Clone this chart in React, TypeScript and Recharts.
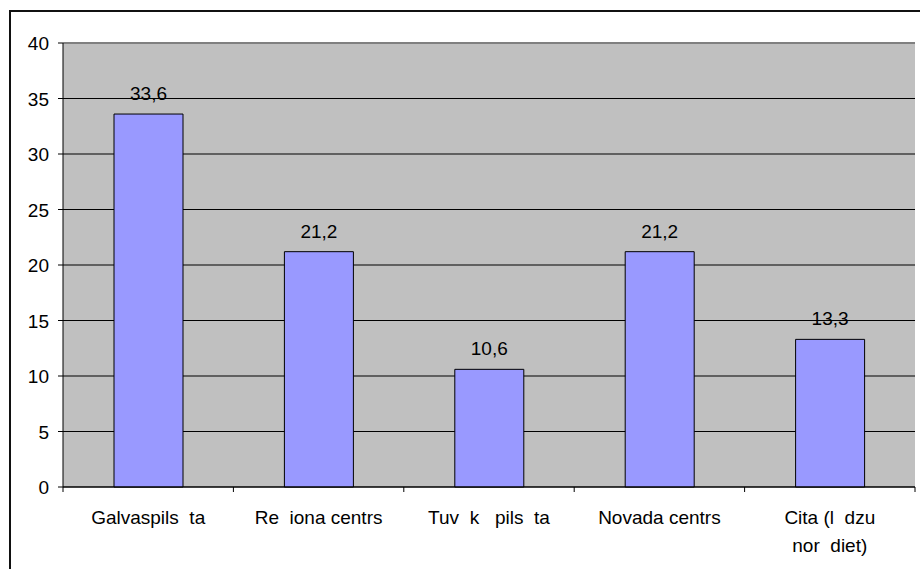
import { Bar, BarChart, CartesianGrid, LabelList, ReferenceLine, XAxis, YAxis } from "recharts"

// category names as they appear in the picture (the missing glyphs show as blanks)
const categories = [
  "Galvaspils\u00A0\u00A0ta",
  "Re\u00A0\u00A0iona centrs",
  "Tuv\u00A0\u00A0k\u00A0\u00A0\u00A0pils\u00A0\u00A0ta",
  "Novada centrs",
  "Cita (l\u00A0\u00A0dzu\nnor\u00A0\u00A0diet)",
]
const values = [33.6, 21.2, 10.6, 21.2, 13.3]
const yTicks = [0, 5, 10, 15, 20, 25, 30, 35, 40]

const data = categories.map((name, i) => ({ name, value: values[i] }))

const W = 920
const H = 569
const MARGIN = { top: 43, right: 5, bottom: 0, left: 0 }
const Y_AXIS_W = 63
const X_AXIS_H = 82
const PLOT_W = W - MARGIN.left - MARGIN.right - Y_AXIS_W
const BAND = PLOT_W / categories.length
const FONT = "Arial, 'Liberation Sans', sans-serif"
const FS = 19

function XTick(props: any) {
  const { x, y, payload, index } = props
  const lines = String(payload.value).split("\n")
  return (
    <g>
      <line x1={x - BAND / 2} y1={y} x2={x - BAND / 2} y2={y + 5} stroke="#000" />
      {index === categories.length - 1 && (
        <line x1={x + BAND / 2} y1={y} x2={x + BAND / 2} y2={y + 5} stroke="#000" />
      )}
      {lines.map((line, i) => (
        <text
          key={i}
          x={x}
          y={y + 37 + i * 28}
          textAnchor="middle"
          fontSize={FS}
          fontFamily={FONT}
          fill="#000"
        >
          {line}
        </text>
      ))}
    </g>
  )
}

function YTick(props: any) {
  const { x, y, payload } = props
  return (
    <text x={x} y={y + 7} textAnchor="end" fontSize={FS} fontFamily={FONT} fill="#000">
      {payload.value}
    </text>
  )
}

function ValueLabel(props: any) {
  const vb = props.viewBox ?? props
  return (
    <text
      x={vb.x + vb.width / 2}
      y={vb.y - 14}
      textAnchor="middle"
      fontSize={FS}
      fontFamily={FONT}
      fill="#000"
    >
      {String(props.value).replace(".", ",")}
    </text>
  )
}

export default function App() {
  return (
    <div
      style={{
        position: "absolute",
        left: 0,
        top: 0,
        width: W,
        height: H,
        overflow: "hidden",
        background: "#fff",
      }}
    >
      <div
        style={{
          position: "absolute",
          left: 9,
          top: 10,
          width: 1000,
          height: 1000,
          border: "2px solid #111",
        }}
      />
      <div style={{ position: "absolute", left: 0, top: 0 }}>
        <BarChart width={W} height={H} data={data} margin={MARGIN} barSize={69}>
          <CartesianGrid vertical={false} stroke="#000" fill="#C0C0C0" fillOpacity={1} />
          <XAxis
            dataKey="name"
            height={X_AXIS_H}
            interval={0}
            tickSize={0}
            tickMargin={0}
            tickLine={false}
            axisLine={{ stroke: "#000" }}
            tick={<XTick />}
          />
          <YAxis
            width={Y_AXIS_W}
            domain={[0, 40]}
            ticks={yTicks}
            interval={0}
            tickSize={5}
            tickMargin={9}
            tickLine={{ stroke: "#000" }}
            axisLine={{ stroke: "#000" }}
            tick={<YTick />}
          />
          <YAxis
            yAxisId="r"
            orientation="right"
            width={0}
            domain={[0, 40]}
            tick={false}
            tickLine={false}
            axisLine={{ stroke: "#808080", strokeWidth: 2 }}
          />
          <ReferenceLine y={40} stroke="#808080" strokeWidth={2} />
          <Bar dataKey="value" fill="#9999FF" stroke="#000" strokeWidth={1} isAnimationActive={false}>
            <LabelList dataKey="value" content={<ValueLabel />} />
          </Bar>
        </BarChart>
      </div>
    </div>
  )
}
